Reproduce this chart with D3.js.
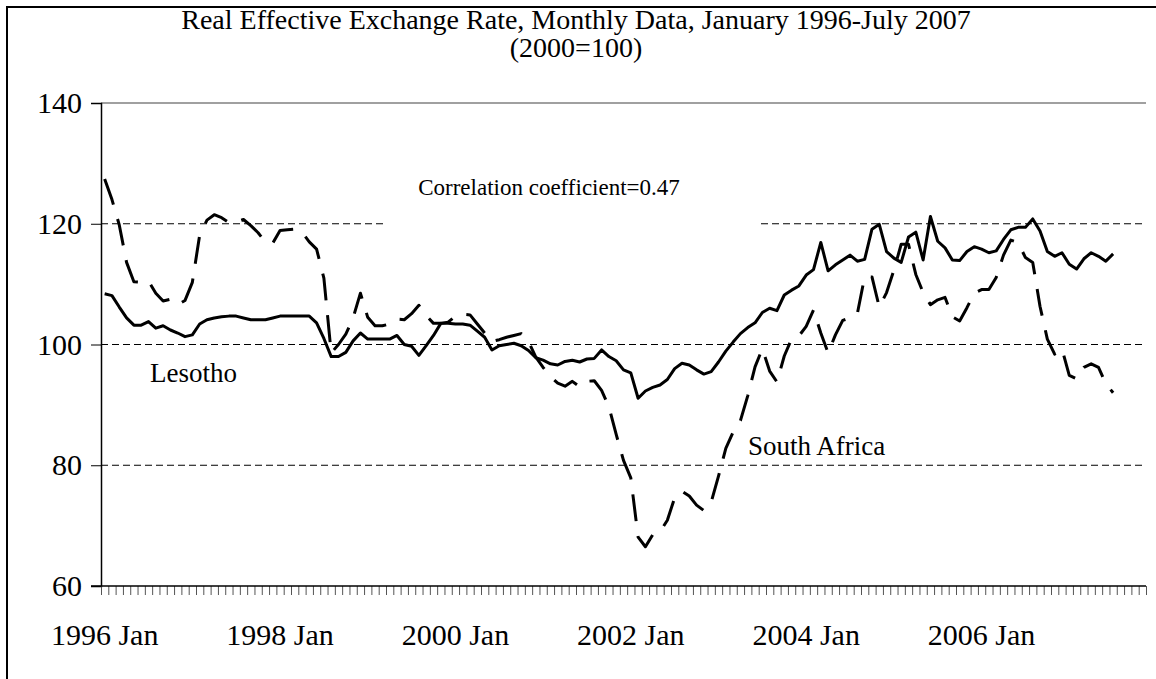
<!DOCTYPE html>
<html>
<head>
<meta charset="utf-8">
<script src="https://cdn.jsdelivr.net/npm/d3@7/dist/d3.min.js"></script>
<style>
  body { margin: 0; background: #fff; }
  svg text { font-family: "Liberation Serif", "Times New Roman", serif; fill: #000; }
</style>
</head>
<body>
<svg id="chart"></svg>
<script>

var monthNames = ["Jan", "Feb", "Mar", "Apr", "May", "Jun", "Jul", "Aug", "Sep", "Oct", "Nov", "Dec"];
var years = [1996, 1997, 1998, 1999, 2000, 2001, 2002, 2003, 2004, 2005, 2006, 2007];
var axisMonths = 143;   // axis runs a few empty months past July 2007
var tickLabels = ["1996 Jan", "1998 Jan", "2000 Jan", "2002 Jan", "2004 Jan", "2006 Jan"];
var yTicks = [60, 80, 100, 120, 140];
var gridValues = [80, 100, 120];

// monthly REER, Jan 1996 - Jul 2007 (2000=100)
var lesotho = [
  108.4, 108.1, 106.2, 104.4, 103.2, 103.2, 103.8, 102.7, 103.1, 102.4,
  101.9, 101.3, 101.6, 103.4, 104.1, 104.4, 104.6, 104.7, 104.7, 104.4,
  104.1, 104.1, 104.1, 104.4, 104.7, 104.7, 104.7, 104.7, 104.7, 103.6,
  101.0, 98.0, 98.0, 98.7, 100.6, 101.9, 100.9, 100.9, 100.9, 100.9,
  101.5, 100.0, 99.7, 98.2, 99.8, 101.5, 103.5, 103.5, 103.4, 103.4,
  103.2, 102.2, 101.2, 99.1, 99.8, 100.0, 100.2, 99.8, 99.0, 97.8,
  97.4, 96.8, 96.6, 97.2, 97.4, 97.1, 97.6, 97.7, 99.1, 98.0,
  97.3, 95.8, 95.3, 91.1, 92.3, 92.9, 93.3, 94.2, 96.0, 96.9,
  96.6, 95.8, 95.1, 95.5, 97.1, 98.9, 100.4, 101.8, 102.8, 103.6,
  105.3, 106.0, 105.6, 108.2, 109.0, 109.7, 111.5, 112.4, 116.9, 112.2,
  113.2, 114.0, 114.8, 113.8, 114.1, 119.1, 119.9, 115.4, 114.3, 113.6,
  117.8, 118.6, 114.0, 121.2, 117.1, 116.0, 114.0, 113.9, 115.4, 116.2,
  115.8, 115.2, 115.5, 117.4, 119.0, 119.4, 119.4, 120.8, 118.8, 115.4,
  114.6, 115.2, 113.3, 112.5, 114.2, 115.2, 114.6, 113.8, 115.0
];

var southAfrica = [
  127.4, 124.0, 119.8, 113.6, 110.4, 110.3, 110.5, 108.5, 107.2, 107.5,
  106.6, 107.3, 110.3, 118.1, 120.6, 121.5, 121.0, 120.2, 120.3, 120.7,
  119.7, 118.5, 117.0, 116.8, 118.9, 119.0, 119.1, 118.6, 117.0, 115.8,
  111.0, 98.6, 100.0, 101.7, 104.4, 108.5, 104.5, 103.1, 103.1, 103.4,
  104.2, 104.1, 105.1, 106.5, 104.8, 103.5, 103.5, 103.7, 104.7, 105.0,
  104.9, 103.4, 101.9, 100.5, 100.8, 101.2, 101.5, 101.8, 100.5, 97.9,
  96.2, 94.7, 93.6, 93.1, 93.9, 93.0, 93.9, 94.0, 92.4, 89.7,
  85.1, 80.8, 77.9, 68.1, 66.5, 68.5, 69.0, 70.9, 74.6, 75.7,
  74.9, 73.4, 72.5, 73.9, 78.2, 82.8, 85.5, 87.4, 91.5, 96.3,
  99.3, 95.6, 93.8, 98.1, 100.9, 101.4, 103.0, 105.7, 101.9, 98.6,
  101.6, 104.0, 104.4, 105.1, 111.2, 111.2, 106.2, 108.6, 112.3, 116.6,
  116.6, 111.6, 108.6, 106.6, 107.4, 107.8, 104.6, 103.9, 106.1, 108.5,
  109.1, 109.1, 111.1, 114.8, 117.3, 116.9, 114.4, 113.6, 106.3, 100.9,
  98.4, 99.3, 94.9, 94.3, 96.2, 96.8, 96.2, 93.5, 92.0
];

var categories = [];
years.forEach(function (y) {
    monthNames.forEach(function (m) {
        categories.push(y + " " + m);
    });
});
categories = categories.slice(0, axisMonths);

var width = 1156;
var height = 679;
var plotLeft = 101, plotRight = 1146, plotTop = 103, plotBottom = 586;

var svg = d3.select("#chart")
    .attr("width", width)
    .attr("height", height);

// outer frame
svg.append("rect")
    .attr("x", 7).attr("y", 7)
    .attr("width", 1170).attr("height", 690)
    .attr("fill", "none")
    .attr("stroke", "#000")
    .attr("stroke-width", 2);

var xScale = d3.scaleBand()
    .domain(categories)
    .range([plotLeft, plotRight]);

var xTickScale = d3.scaleLinear()
    .domain([0, categories.length])
    .range([plotLeft, plotRight]);

var yScale = d3.scaleLinear()
    .domain([60, 140])
    .range([plotBottom, plotTop]);

// gridlines
svg.append("g")
    .selectAll("line")
    .data(gridValues)
    .enter()
    .append("line")
    .attr("x1", plotLeft)
    .attr("x2", plotRight)
    .attr("y1", function (d) { return yScale(d); })
    .attr("y2", function (d) { return yScale(d); })
    .attr("stroke", "#000")
    .attr("stroke-width", 1)
    .attr("stroke-dasharray", "7,4");

// plot area top edge
svg.append("line")
    .attr("x1", plotLeft).attr("x2", plotRight)
    .attr("y1", yScale(140)).attr("y2", yScale(140))
    .attr("stroke", "#808080")
    .attr("stroke-width", 1.5);

// white box behind the correlation note
svg.append("rect")
    .attr("x", 386).attr("y", 150)
    .attr("width", 374).attr("height", 88)
    .attr("fill", "#fff");

svg.append("text")
    .attr("x", 549)
    .attr("y", 195)
    .attr("text-anchor", "middle")
    .style("font-size", "23px")
    .text("Correlation coefficient=0.47");

var line = d3.line()
    .x(function (d, i) { return xScale(categories[i]) + xScale.bandwidth() / 2; })
    .y(function (d) { return yScale(d); });

svg.append("path")
    .datum(southAfrica)
    .attr("d", line)
    .attr("fill", "none")
    .attr("stroke", "#000")
    .attr("stroke-width", 3)
    .attr("stroke-dasharray", "27,15")
    .attr("stroke-linejoin", "round");

svg.append("path")
    .datum(lesotho)
    .attr("d", line)
    .attr("fill", "none")
    .attr("stroke", "#000")
    .attr("stroke-width", 3)
    .attr("stroke-linejoin", "round");

// y axis
var y_axis = d3.axisLeft(yScale)
    .tickValues(yTicks)
    .tickSize(10)
    .tickPadding(9)
    .tickFormat(d3.format("d"));

var yAxisG = svg.append("g")
    .attr("transform", "translate(" + plotLeft + ",0)")
    .call(y_axis);
yAxisG.select(".domain").attr("stroke", "#000").attr("stroke-width", 1.5);
yAxisG.selectAll(".tick line").attr("stroke", "#000");
yAxisG.selectAll("text")
    .style("font-family", "'Liberation Serif', serif")
    .style("font-size", "30px");

// x axis: minor tick per month
var x_ticks = d3.axisBottom(xTickScale)
    .tickValues(d3.range(0, categories.length + 1))
    .tickSize(9)
    .tickFormat("");

var xTickG = svg.append("g")
    .attr("transform", "translate(0," + plotBottom + ")")
    .call(x_ticks);
xTickG.select(".domain").remove();
xTickG.selectAll(".tick line").attr("stroke", "#555");

svg.append("line")
    .attr("x1", plotLeft - 10).attr("x2", plotRight)
    .attr("y1", plotBottom).attr("y2", plotBottom)
    .attr("stroke", "#000")
    .attr("stroke-width", 1.5);

// x axis labels
var x_axis = d3.axisBottom(xScale)
    .tickValues(tickLabels)
    .tickSize(0)
    .tickPadding(38);

var xAxisG = svg.append("g")
    .attr("transform", "translate(0," + plotBottom + ")")
    .call(x_axis);
xAxisG.select(".domain").remove();
xAxisG.selectAll("text")
    .style("font-family", "'Liberation Serif', serif")
    .style("font-size", "30px");

// title
svg.append("text")
    .attr("x", 576).attr("y", 29)
    .attr("text-anchor", "middle")
    .style("font-size", "28px")
    .text("Real Effective Exchange Rate, Monthly Data, January 1996-July 2007");

svg.append("text")
    .attr("x", 576).attr("y", 57)
    .attr("text-anchor", "middle")
    .style("font-size", "28px")
    .text("(2000=100)");

// series labels
svg.append("text")
    .attr("x", 150).attr("y", 382)
    .style("font-size", "27px")
    .text("Lesotho");

svg.append("text")
    .attr("x", 748).attr("y", 455)
    .style("font-size", "27px")
    .text("South Africa");

</script>
</body>
</html>
